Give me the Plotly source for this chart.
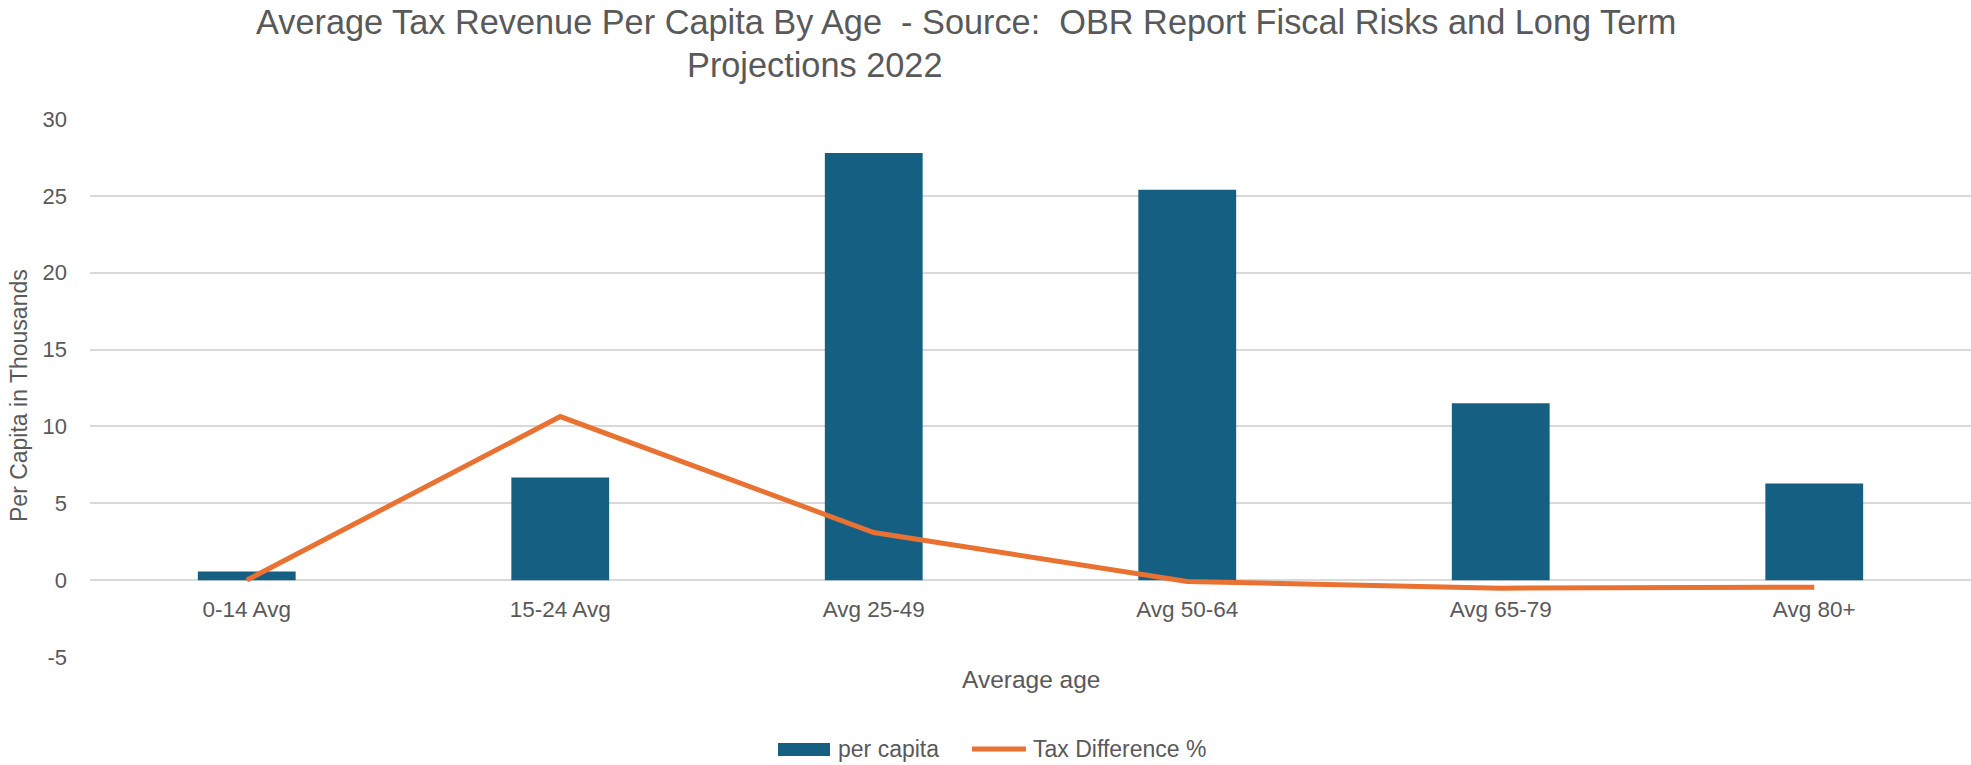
import plotly.graph_objects as go

# Age bands and values (thousands per capita, and tax difference %)
categories = ["0-14 Avg", "15-24 Avg", "Avg 25-49", "Avg 50-64", "Avg 65-79", "Avg 80+"]
per_capita = [0.56, 6.67, 27.78, 25.39, 11.51, 6.28]
tax_difference_pct = [0.0, 10.64, 3.1, -0.09, -0.52, -0.46]
y_ticks = [-5, 0, 5, 10, 15, 20, 25, 30]
y_tick_labels = ["-5", "0", "5", "10", "15", "20", "25", "30"]

W, H = 1971, 765
L, R, T, B = 90, 0, 119, 108
PW, PH = W - L - R, H - T - B

BAR_COLOR = "#156082"
LINE_COLOR = "#E97132"
TEXT_COLOR = "#595959"
GRID_COLOR = "#D9D9D9"
FONT = "Liberation Sans, Arial, sans-serif"


def px_x(x):
    return (x - L) / PW


def px_y(y):
    return (H - B - y) / PH


fig = go.Figure()
fig.add_trace(go.Bar(
    x=categories, y=per_capita, name="per capita",
    marker=dict(color=BAR_COLOR, line=dict(width=0)),
))
fig.add_trace(go.Scatter(
    x=categories, y=tax_difference_pct, name="Tax Difference %",
    mode="lines", line=dict(color=LINE_COLOR, width=5),
))

y_min, y_max = y_ticks[0], y_ticks[-1]

fig.update_layout(
    width=W, height=H,
    margin=dict(l=L, r=R, t=T, b=B, pad=0),
    paper_bgcolor="white", plot_bgcolor="white",
    showlegend=False,
    bargap=0.688,
    font=dict(family=FONT, size=22, color=TEXT_COLOR),
    xaxis=dict(
        type="category", range=[-0.5, len(categories) - 0.5],
        anchor="free", position=(0 - y_min) / (y_max - y_min),
        showgrid=False, showline=False, zeroline=False, ticks="",
        ticklabelstandoff=13,
        tickfont=dict(size=22.5, color=TEXT_COLOR),
    ),
    yaxis=dict(
        range=[y_min, y_max], tickvals=y_ticks, ticktext=y_tick_labels,
        showgrid=True, gridcolor=GRID_COLOR, gridwidth=1.5,
        zeroline=False, showline=False, ticks="",
        ticklabelstandoff=22,
        tickfont=dict(size=22, color=TEXT_COLOR),
    ),
)

annotations = [
    dict(text="Average Tax Revenue Per Capita By Age  - Source:  OBR Report Fiscal Risks and Long Term",
         x=px_x(966), y=px_y(22), font=dict(size=34.3, color=TEXT_COLOR)),
    dict(text="Projections 2022", x=px_x(815), y=px_y(65), font=dict(size=34.3, color=TEXT_COLOR)),
    dict(text="Average age", x=px_x(1031), y=px_y(679), font=dict(size=24.5, color=TEXT_COLOR)),
    dict(text="Per Capita in Thousands", x=px_x(19), y=px_y(396), textangle=-90,
         font=dict(size=23, color=TEXT_COLOR)),
    dict(text="per capita", x=px_x(836), y=px_y(749), xanchor="left",
         font=dict(size=23, color=TEXT_COLOR)),
    dict(text="Tax Difference %", x=px_x(1031), y=px_y(749), xanchor="left",
         font=dict(size=23, color=TEXT_COLOR)),
]
for a in annotations:
    a.setdefault("xanchor", "center")
    fig.add_annotation(xref="paper", yref="paper", yanchor="middle", showarrow=False, **a)

# Legend keys
fig.add_shape(type="rect", xref="paper", yref="paper",
              x0=px_x(778), x1=px_x(830), y0=px_y(756), y1=px_y(743),
              fillcolor=BAR_COLOR, line=dict(width=0))
fig.add_shape(type="line", xref="paper", yref="paper",
              x0=px_x(972), x1=px_x(1026), y0=px_y(749), y1=px_y(749),
              line=dict(color=LINE_COLOR, width=5))

fig.write_html("out.html")
